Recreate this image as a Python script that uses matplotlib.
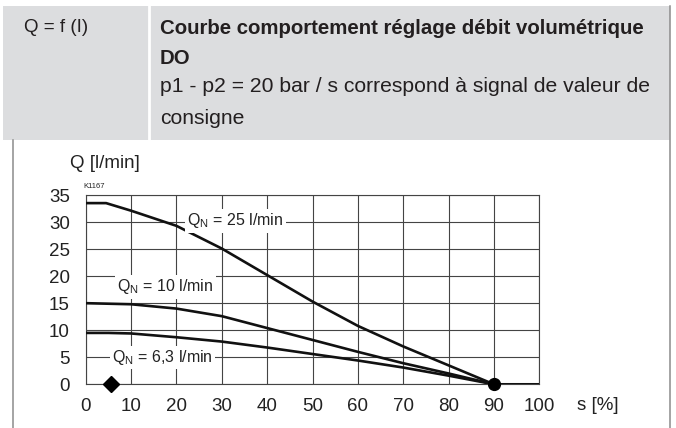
import matplotlib
matplotlib.use("Agg")
import matplotlib.pyplot as plt
from matplotlib.patches import Rectangle
from matplotlib.lines import Line2D

W, H = 676, 428

# signal s [%] and flow Q [l/min]
s_25 = [0, 4.5, 10, 20, 30, 40, 50, 60, 70, 80, 90, 100]
q_25 = [33.5, 33.5, 32.1, 29.3, 25.1, 20.2, 15.3, 10.8, 7.0, 3.5, 0, 0]
s_10 = [0, 10, 20, 30, 40, 50, 60, 70, 80, 90]
q_10 = [15.0, 14.8, 14.0, 12.6, 10.4, 8.2, 6.0, 3.9, 2.0, 0]
s_63 = [0, 5, 10, 20, 30, 40, 50, 60, 70, 80, 90]
q_63 = [9.5, 9.5, 9.4, 8.7, 7.9, 6.8, 5.6, 4.4, 3.1, 1.6, 0]

x_ticks = [0, 10, 20, 30, 40, 50, 60, 70, 80, 90, 100]
y_ticks = [0, 5, 10, 15, 20, 25, 30, 35]

labels = ["Q$_\\mathregular{N}$ = 25 l/min", "Q$_\\mathregular{N}$ = 10 l/min",
          "Q$_\\mathregular{N}$ = 6,3 l/min"]
label_pos = [(33, 30.2), (17.6, 18.0), (17, 5.0)]

plt.rcParams["font.family"] = ["Liberation Sans", "DejaVu Sans"]
plt.rcParams["mathtext.fontset"] = "custom"
plt.rcParams["mathtext.rm"] = "Liberation Sans"

GRID = "#444444"
TXT = "#231f20"


def fx(x):
    return x / W


def fy(y):
    return 1 - y / H


fig = plt.figure(figsize=(W / 100, H / 100), dpi=100)

# header block
fig.patches.append(Rectangle((fx(3), fy(140)), fx(667), (140 - 6) / H,
                             transform=fig.transFigure, fc="#dcdddf", ec="none"))
fig.lines.append(Line2D([fx(149), fx(149)], [fy(6), fy(140)], color="white",
                        lw=2, transform=fig.transFigure))
fig.lines.append(Line2D([fx(12.7), fx(12.7)], [fy(140), 0], color="#8c8c8c",
                        lw=1.1, transform=fig.transFigure))
fig.lines.append(Line2D([fx(670), fx(670)], [fy(6), 0], color="#8c8c8c",
                        lw=1.1, transform=fig.transFigure))

fig.text(fx(24), fy(28), "Q = f (I)", fontsize=13.5, color=TXT, va="center")
fig.text(fx(160), fy(28), "Courbe comportement réglage débit volumétrique",
         fontsize=14.7, weight="bold", color=TXT, va="center")
fig.text(fx(160), fy(58), "DO", fontsize=14.7, weight="bold",
         color=TXT, va="center")
fig.text(fx(160), fy(87), "p1 - p2 = 20 bar / s correspond à signal de valeur de",
         fontsize=15.2, color=TXT, va="center")
fig.text(fx(160), fy(118), "consigne", fontsize=15.2, color=TXT, va="center")

# chart
ax = fig.add_axes([fx(85.7), fy(384.3), fx(539.3 - 85.7), (384.3 - 195) / H])
ax.set_xlim(0, 100)
ax.set_ylim(0, 35)
ax.set_xticks(x_ticks)
ax.set_yticks(y_ticks)
ax.grid(True, color=GRID, lw=0.8)
ax.set_axisbelow(True)
for sp in ax.spines.values():
    sp.set_color(GRID)
    sp.set_linewidth(0.8)
ax.tick_params(length=0, labelsize=13.5, colors="#222222")
ax.tick_params(axis="y", pad=11.5)
ax.tick_params(axis="x", pad=10)

for s, q in [(s_25, q_25), (s_10, q_10), (s_63, q_63)]:
    ax.plot(s, q, color="#111111", lw=1.9, solid_capstyle="butt", zorder=3)

ax.plot([90], [0], "o", color="black", ms=8.5, clip_on=False, zorder=4)
ax.plot([5.5], [0], "D", color="black", ms=8.5, clip_on=False, zorder=4)

for txt, (x, y) in zip(labels, label_pos):
    ax.text(x, y, txt, fontsize=11.5, ha="center", va="center", color="#222222",
            zorder=5, bbox=dict(fc="white", ec="none", pad=1.5))

fig.text(fx(140), fy(163), "Q [l/min]", fontsize=13.5, ha="right", va="center",
         color="#222222")
fig.text(fx(577), fy(406), "s [%]", fontsize=13.5, ha="left", va="center",
         color="#222222")
fig.text(fx(83), fy(187), "K1167", fontsize=5.5, ha="left", va="center",
         color="#222222")

fig.savefig("out.png", dpi=100)
